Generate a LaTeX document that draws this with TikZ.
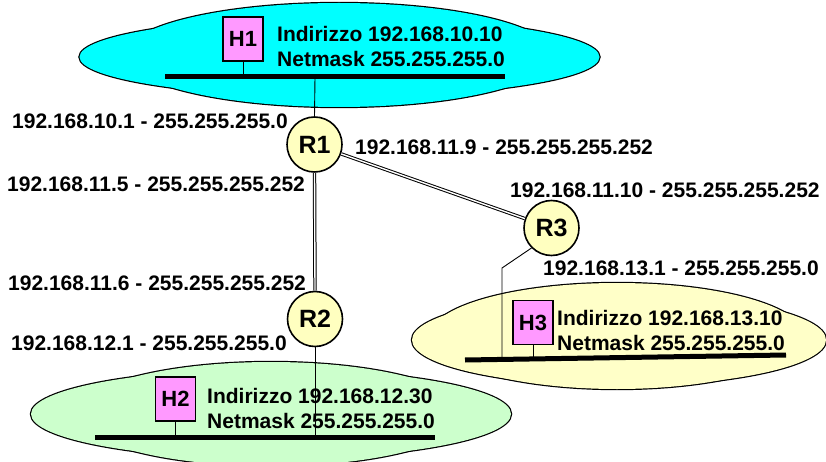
\documentclass[tikz,border=0pt]{standalone}
\usepackage{fontspec}
\setmainfont{Liberation Sans}
\definecolor{cloudcyan}{RGB}{0,255,255}
\definecolor{cloudyellow}{RGB}{255,255,200}
\definecolor{cloudgreen}{RGB}{204,255,204}
\definecolor{hostpink}{RGB}{255,153,255}
\definecolor{routeryellow}{RGB}{255,255,192}
\tikzset{
  lbl/.style={anchor=base west,inner sep=0pt,font=\fontsize{21}{25}\selectfont\bfseries},
  router/.style={circle,draw,line width=1.6pt,fill=routeryellow,minimum size=55pt,inner sep=0pt,font=\fontsize{25}{28}\selectfont\bfseries},
  host/.style={rectangle,draw,line width=1.5pt,fill=hostpink,minimum width=40pt,minimum height=44pt,inner sep=0pt,font=\fontsize{22}{24}\selectfont\bfseries},
  bus/.style={line width=5pt},
  stem/.style={line width=0.9pt},
  dbl/.style={double=white,double distance=1.4pt,line width=1pt},
  outline/.style={draw=black,line width=2.4pt}
}
\begin{document}
\begin{tikzpicture}[x=1pt,y=-1pt]
\useasboundingbox (0,0) rectangle (826,462);
% green cloud
\draw[outline] (271,414) ellipse [x radius=240pt, y radius=45pt];
\draw[outline] (271,414) ellipse [x radius=195pt, y radius=52pt];
\fill[cloudgreen] (271,414) ellipse [x radius=240pt, y radius=45pt];
\fill[cloudgreen] (271,414) ellipse [x radius=195pt, y radius=52pt];
% yellow cloud
\draw[outline] (619,340) ellipse [x radius=207pt, y radius=46pt];
\draw[outline] (617,336) ellipse [x radius=187pt, y radius=53pt];
\fill[cloudyellow] (619,340) ellipse [x radius=207pt, y radius=46pt];
\fill[cloudyellow] (617,336) ellipse [x radius=187pt, y radius=53pt];
% cyan cloud
\draw[outline] (339.5,57) ellipse [x radius=260pt, y radius=40pt];
\draw[outline] (339,55) ellipse [x radius=214pt, y radius=52pt];
\fill[cloudcyan] (339.5,57) ellipse [x radius=260pt, y radius=40pt];
\fill[cloudcyan] (339,55) ellipse [x radius=214pt, y radius=52pt];

% bus coordinates
\coordinate (b1l) at (165,77);
\coordinate (b1r) at (505,77);
\coordinate (b1t) at (315,77);
\coordinate (b2l) at (95,437);
\coordinate (b2r) at (435,437);
\coordinate (b2t) at (315,437);
\coordinate (b3l) at (465,360);
\coordinate (b3r) at (786,355);
\coordinate (b3t) at (502,358.5);
\coordinate (r3k) at (502,268);

% routers
\node[router] (R1) at (314.5,144.5) {R1};
\node[router] (R2) at (315,319) {R2};
\node[router] (R3) at (551.5,228) {R3};

% hosts
\node[host] (H1) at (243,39) {H1};
\node[host] (H2) at (175.5,399) {H2};
\node[host] (H3) at (533,322.5) {H3};

% links
\draw[stem] (b1t) -- (R1.north);
\draw[dbl] (R1.south) -- (R2.north);
\draw[dbl] (R1) -- (R3);
\draw[stem] (R2.south) -- (b2t);
\draw[stem] (R3.225) -- (r3k) -- (b3t);
\draw[stem] (H1.south) -- (H1.south |- b1l);
\draw[stem] (H2.south) -- (H2.south |- b2l);
\draw[stem] (H3.south) -- (H3.south |- b3t);

% buses
\draw[bus] (b1l) -- (b1r);
\draw[bus] (b2l) -- (b2r);
\draw[bus] (b3l) -- (b3r);

% host texts
\node[lbl] (t1a) at (277,42) {Indirizzo 192.168.10.10};
\node[lbl] (t1b) at (277,67) {Netmask 255.255.255.0};
\node[lbl] (t2a) at (207,403) {Indirizzo 192.168.12.30};
\node[lbl] (t2b) at (207,428) {Netmask 255.255.255.0};
\node[lbl] (t3a) at (557,325) {Indirizzo 192.168.13.10};
\node[lbl] (t3b) at (557,350) {Netmask 255.255.255.0};

% interface labels
\node[lbl] (l1) at (12,129) {192.168.10.1 - 255.255.255.0};
\node[lbl] (l2) at (7,192) {192.168.11.5 - 255.255.255.252};
\node[lbl] (l3) at (8,290) {192.168.11.6 - 255.255.255.252};
\node[lbl] (l4) at (11,350) {192.168.12.1 - 255.255.255.0};
\node[lbl] (l5) at (355,155) {192.168.11.9 - 255.255.255.252};
\node[lbl] (l6) at (510,198) {192.168.11.10 - 255.255.255.252};
\node[lbl] (l7) at (543,275) {192.168.13.1 - 255.255.255.0};
\end{tikzpicture}
\end{document}
